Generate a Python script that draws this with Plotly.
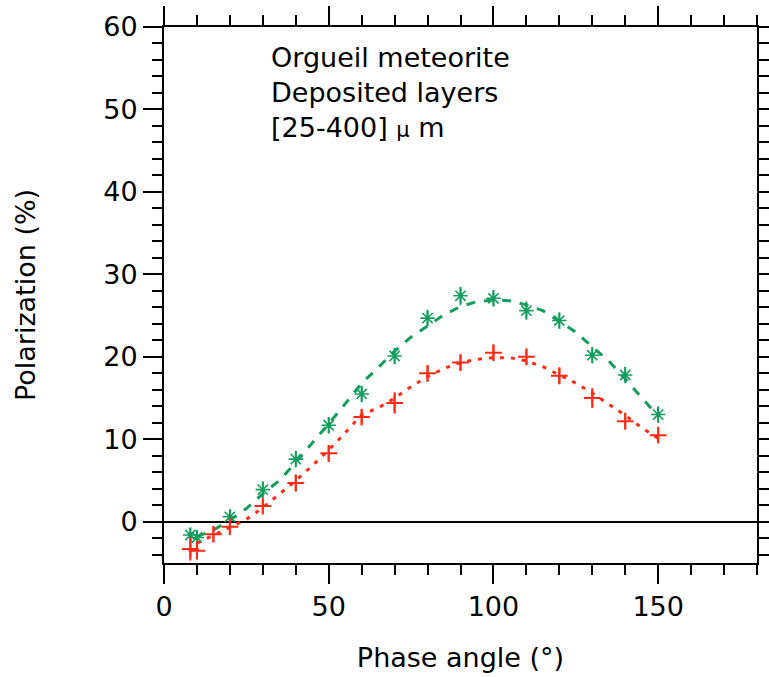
import plotly.graph_objects as go

# Measured points
green_x = [8, 10, 20, 30, 40, 50, 60, 70, 80, 90, 100, 110, 120, 130, 140, 150]
green_y = [-1.6, -1.9, 0.6, 3.9, 7.6, 11.7, 15.5, 20.1, 24.7, 27.4, 27.1, 25.6, 24.4, 20.2, 17.8, 13.0]
green_err = [0.9, 0.9, 0.9, 1.0, 1.0, 1.0, 1.0, 1.0, 1.0, 1.1, 1.0, 1.1, 1.0, 1.0, 1.0, 1.0]

red_x = [8, 10, 15, 20, 30, 40, 50, 60, 70, 80, 90, 100, 110, 120, 130, 140, 150]
red_y = [-3.3, -3.5, -1.5, -0.6, 1.9, 4.7, 8.3, 12.7, 14.4, 18.0, 19.3, 20.5, 20.0, 17.7, 15.0, 12.2, 10.5]
red_err = [1.4, 1.1, 0.9, 0.8, 0.8, 1.0, 1.0, 0.9, 1.3, 1.0, 1.0, 0.9, 1.0, 1.0, 1.2, 1.0, 0.9]

# Fitted curves
fit_x = [10, 15, 20, 25, 30, 35, 40, 45, 50, 55, 60, 65, 70, 75, 80, 85, 90, 95,
         100, 105, 110, 115, 120, 125, 130, 135, 140, 145, 150]
green_fit = [-1.8, -1.0, 0.2, 1.6, 3.4, 5.0, 7.2, 9.5, 11.9, 14.3, 16.8, 18.7, 20.7, 22.4,
             23.8, 25.1, 26.1, 26.7, 26.9, 26.8, 26.3, 25.6, 24.3, 23.0, 21.2, 19.5, 17.3, 15.1, 12.8]
red_fit = [-2.6, -1.6, -0.7, 0.3, 1.7, 3.3, 5.0, 6.8, 8.7, 10.8, 13.0, 13.8, 15.0, 16.4,
           17.6, 18.6, 19.3, 19.7, 19.9, 19.9, 19.5, 18.8, 17.8, 16.8, 15.6, 14.3, 12.9, 11.4, 10.1]

GREEN = "#129c5e"
RED = "#ff2b16"
FONT = "DejaVu Sans"

fig = go.Figure()
fig.add_trace(go.Scatter(x=fit_x, y=green_fit, mode="lines",
                         line=dict(color=GREEN, width=3, dash="9px,9px"), showlegend=False))
fig.add_trace(go.Scatter(x=fit_x, y=red_fit, mode="lines",
                         line=dict(color=RED, width=3, dash="4px,7px"), showlegend=False))
fig.add_trace(go.Scatter(x=green_x, y=green_y, mode="markers",
                         marker=dict(symbol="asterisk-open", size=12, color=GREEN,
                                     line=dict(color=GREEN, width=1.6)),
                         error_y=dict(type="data", array=green_err, color=GREEN, thickness=2, width=0),
                         showlegend=False))
fig.add_trace(go.Scatter(x=red_x, y=red_y, mode="markers",
                         marker=dict(symbol="cross-thin-open", size=12, color=RED,
                                     line=dict(color=RED, width=2)),
                         error_y=dict(type="data", array=red_err, color=RED, thickness=2, width=0),
                         showlegend=False))

axis_common = dict(showline=True, linecolor="black", linewidth=2, mirror="ticks",
                   ticks="outside", ticklen=19, tickwidth=2, tickcolor="black",
                   showgrid=False, automargin=False,
                   tickfont=dict(family=FONT, size=27, color="black"),
                   title_font=dict(family=FONT, size=27, color="black"))

fig.update_xaxes(range=[0, 180], tick0=0, dtick=50,
                 minor=dict(dtick=10, ticklen=10, tickwidth=2, tickcolor="black", ticks="outside"),
                 title_text="Phase angle (°)", title_standoff=27, zeroline=False, **axis_common)
fig.update_yaxes(range=[-5, 60], tick0=0, dtick=10,
                 minor=dict(dtick=2, ticklen=10, tickwidth=2, tickcolor="black", ticks="outside"),
                 title_text="Polarization (%)", title_standoff=60,
                 zeroline=True, zerolinecolor="black", zerolinewidth=2, **axis_common)

fig.add_annotation(x=32.0, y=58.4, xref="x", yref="y", xanchor="left", yanchor="top",
                   align="left", showarrow=False,
                   text="Orgueil meteorite<br>Deposited layers<br>[25-400] <span style='font-size:21px'>μ</span> m",
                   font=dict(family=FONT, size=27, color="black"))

fig.update_layout(width=769, height=677, margin=dict(l=164, r=12, t=27, b=114),
                  plot_bgcolor="white", paper_bgcolor="white")

fig.write_html("out.html")
